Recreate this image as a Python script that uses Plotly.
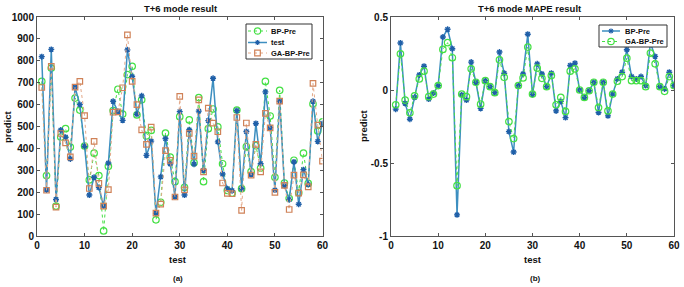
import plotly.graph_objects as go

x_idx = list(range(1, 61))

test_vals = [819, 210, 852, 167, 484, 451, 352, 680, 600, 410,
             187, 268, 221, 137, 333, 615, 568, 528, 850, 728,
             556, 640, 368, 433, 104, 270, 445, 329, 179, 568,
             187, 485, 328, 570, 300, 527, 720, 430, 283, 216,
             207, 573, 216, 477, 281, 514, 330, 658, 495, 210,
             615, 230, 166, 338, 145, 303, 235, 615, 432, 514]

bp_pre = [706, 276, 767, 136, 452, 490, 406, 630, 575, 411,
          256, 378, 276, 23, 318, 573, 670, 557, 737, 775,
          553, 622, 457, 482, 74, 154, 470, 360, 248, 545,
          222, 530, 335, 632, 248, 490, 580, 498, 330, 208,
          196, 575, 216, 408, 294, 412, 310, 706, 548, 268,
          665, 242, 172, 346, 198, 378, 240, 603, 480, 521]

ga_bp_pre = [678, 209, 775, 132, 468, 425, 361, 680, 706, 550,
             217, 432, 240, 136, 212, 565, 567, 677, 918, 706,
             600, 485, 418, 497, 104, 146, 390, 345, 178, 638,
             211, 468, 365, 622, 293, 584, 515, 476, 242, 195,
             193, 541, 117, 516, 278, 418, 293, 560, 494, 199,
             616, 231, 121, 278, 196, 279, 224, 697, 506, 342]

mape_bp = [-0.131, 0.322, -0.092, -0.200, -0.050, 0.103, 0.163, -0.062, -0.021, 0.030,
           0.363, 0.416, 0.283, -0.855, -0.034, -0.069, 0.191, 0.053, -0.126, 0.064,
           0.023, -0.018, 0.260, 0.115, -0.285, -0.425, 0.030, 0.110, 0.382, -0.030,
           0.179, 0.110, 0.023, 0.115, -0.143, -0.078, -0.189, 0.168, 0.184, 0.000,
           -0.051, -0.005, 0.053, -0.154, 0.053, -0.177, -0.028, 0.076, 0.122, 0.276,
           0.092, 0.076, 0.092, 0.030, 0.322, 0.230, 0.023, 0.007, 0.122, 0.030]

mape_ga = [-0.101, 0.248, -0.069, -0.156, -0.040, 0.076, 0.129, -0.046, -0.028, 0.030,
           0.278, 0.324, 0.221, -0.655, -0.028, -0.046, 0.145, 0.053, -0.097, 0.064,
           0.023, -0.018, 0.207, 0.087, -0.216, -0.333, 0.030, 0.083, 0.294, -0.028,
           0.150, 0.080, 0.023, 0.099, -0.101, -0.051, -0.147, 0.129, 0.145, 0.000,
           -0.051, -0.005, 0.053, -0.120, 0.053, -0.143, -0.028, 0.060, 0.092, 0.218,
           0.064, 0.064, 0.064, 0.023, 0.253, 0.179, 0.023, -0.009, 0.092, 0.030]

W, H = 684, 287
L, R, T, B = 37, 674, 17, 236   # plot area in pixels
FONT = "Liberation Sans, Arial, sans-serif"
BLUE_LINE = "#3d8fc0"
BLUE_MARK = "#1f5fa8"
GREEN = "#45e045"
ORANGE = "#d08258"
ORANGE_LINE = "#e3a888"

def px(x):
    return (x - L) / (R - L)

def py(y):
    return (B - y) / (B - T)

fig = go.Figure()

star_marker = dict(symbol="asterisk-open", size=5, color=BLUE_MARK, line=dict(width=1.4, color=BLUE_MARK))
circ_marker = dict(symbol="circle-open", size=6.5, color=GREEN, line=dict(width=1.2))
sq_marker = dict(symbol="square-open", size=5.5, color=ORANGE, line=dict(width=1.2))

# left panel
fig.add_trace(go.Scatter(x=x_idx, y=bp_pre, name="BP-Pre", mode="lines+markers",
                         line=dict(color=GREEN, width=1, dash="dot"), marker=circ_marker,
                         xaxis="x", yaxis="y"))
fig.add_trace(go.Scatter(x=x_idx, y=test_vals, name="test", mode="lines+markers",
                         line=dict(color=BLUE_LINE, width=1.5), marker=star_marker,
                         xaxis="x", yaxis="y"))
fig.add_trace(go.Scatter(x=x_idx, y=ga_bp_pre, name="GA-BP-Pre", mode="lines+markers",
                         line=dict(color=ORANGE_LINE, width=1, dash="dot"), marker=sq_marker,
                         xaxis="x", yaxis="y"))

# right panel
fig.add_trace(go.Scatter(x=x_idx, y=mape_bp, name="BP-Pre", mode="lines+markers",
                         line=dict(color=BLUE_LINE, width=1.5), marker=star_marker,
                         xaxis="x2", yaxis="y2"))
fig.add_trace(go.Scatter(x=x_idx, y=mape_ga, name="GA-BP-Pre", mode="lines+markers",
                         line=dict(color=GREEN, width=1, dash="dot"), marker=circ_marker,
                         xaxis="x2", yaxis="y2"))

axis_common = dict(showgrid=False, zeroline=False, showline=True, linecolor="#555555", linewidth=1,
                   mirror="ticks", ticks="inside", ticklen=3, tickcolor="#555555", automargin=False,
                   tickfont=dict(family=FONT, size=10, color="#111111", weight="bold"))

fig.update_layout(
    width=W, height=H,
    margin=dict(l=L, r=W - R, t=T, b=H - B, autoexpand=False),
    paper_bgcolor="white", plot_bgcolor="white",
    font=dict(family=FONT, color="#111111"),
    showlegend=False,
    xaxis=dict(domain=[0, px(322.5)], range=[0, 60], tickvals=[0, 10, 20, 30, 40, 50, 60],
               anchor="y", **axis_common),
    yaxis=dict(domain=[0, 1], range=[0, 1000],
               tickvals=[0, 100, 200, 300, 400, 500, 600, 700, 800, 900, 1000],
               anchor="x", **axis_common),
    xaxis2=dict(domain=[px(391), 1], range=[0, 60], tickvals=[0, 10, 20, 30, 40, 50, 60],
                anchor="y2", **axis_common),
    yaxis2=dict(domain=[0, 1], range=[-1, 0.5], tickvals=[-1, -0.5, 0, 0.5],
                ticktext=["-1", "-0.5", "0", "0.5"], anchor="x2", **axis_common),
)

def ann(text, x, y, size=9.5, angle=0, xanchor="center"):
    fig.add_annotation(text=text, x=px(x), y=py(y), xref="paper", yref="paper",
                       showarrow=False, xanchor=xanchor, yanchor="middle", textangle=angle,
                       font=dict(family=FONT, size=size, color="#111111", weight="bold"))

ann("T+6 mode result", 181, 8)
ann("T+6 mode MAPE result", 530, 8)
ann("test", 178, 259)
ann("test", 533, 259)
ann("predict", 7, 126, angle=-90)
ann("predict", 363, 126, angle=-90)
ann("(a)", 178, 278, size=8)
ann("(b)", 535, 278, size=8)

# ---- compact MATLAB-style legends (decoration) ----
def legend_box(x0, y0, x1, y1):
    fig.add_shape(type="rect", xref="paper", yref="paper",
                  x0=px(x0), x1=px(x1), y0=py(y1), y1=py(y0),
                  line=dict(color="#333333", width=1), fillcolor="white", layer="above")

def legend_entry(text, lx0, lx1, ly, line_color, dash, width, kind, mcolor, tx):
    fig.add_shape(type="line", xref="paper", yref="paper",
                  x0=px(lx0), x1=px(lx1), y0=py(ly), y1=py(ly),
                  line=dict(color=line_color, width=width, dash=dash), layer="above")
    cx, cy = px((lx0 + lx1) / 2), py(ly)
    if kind in ("circle", "rect"):
        r = 3.2 if kind == "circle" else 2.8
        fig.add_shape(type=kind, xref="paper", yref="paper", xsizemode="pixel", ysizemode="pixel",
                      xanchor=cx, yanchor=cy, x0=-r, x1=r, y0=-r, y1=r,
                      line=dict(color=mcolor, width=1.2), fillcolor="rgba(0,0,0,0)", layer="above")
    else:
        for dx, dy in [(2.5, 0), (0, 2.5), (1.8, 1.8), (1.8, -1.8)]:
            fig.add_shape(type="line", xref="paper", yref="paper", xsizemode="pixel", ysizemode="pixel",
                          xanchor=cx, yanchor=cy, x0=-dx, x1=dx, y0=-dy, y1=dy,
                          line=dict(color=mcolor, width=1.2), layer="above")
    ann(text, tx, ly, size=7.5, xanchor="left")

legend_box(246, 24, 312, 59)
legend_entry("BP-Pre", 248, 267, 31, GREEN, "dot", 1, "circle", GREEN, 269)
legend_entry("test", 248, 267, 42.5, BLUE_LINE, "solid", 1.5, "star", BLUE_MARK, 269)
legend_entry("GA-BP-Pre", 248, 267, 53, ORANGE_LINE, "dot", 1, "rect", ORANGE, 269)

legend_box(599, 25, 667, 47)
legend_entry("BP-Pre", 602, 620, 31, BLUE_LINE, "solid", 1.5, "star", BLUE_MARK, 623)
legend_entry("GA-BP-Pre", 602, 620, 41.5, GREEN, "dot", 1, "circle", GREEN, 623)

fig.write_html("out.html", config={"displayModeBar": False},
               post_script="document.body.style.margin='0';document.body.style.overflow='hidden';")
